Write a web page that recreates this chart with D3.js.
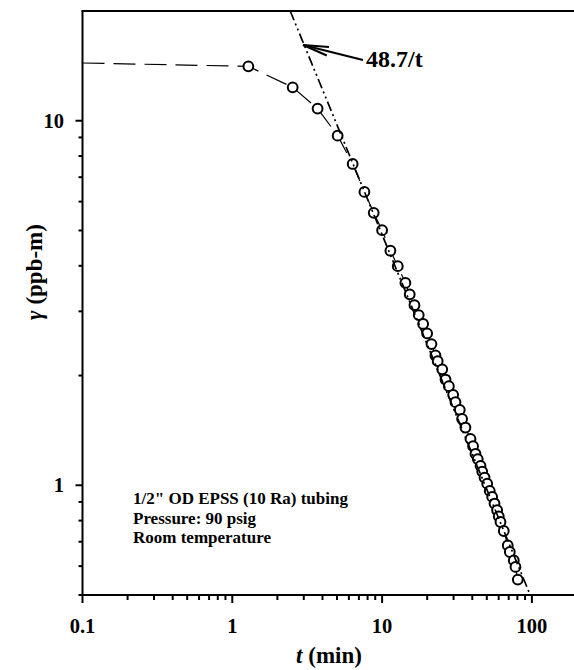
<!DOCTYPE html>
<meta charset="utf-8">
<script src="https://cdn.jsdelivr.net/npm/d3@7"></script>
<style>
	body { margin: 0; background: #fff; }
	text { font-family: "Liberation Serif", "Times New Roman", serif; font-weight: bold; fill: #000; }
</style>
<div id="vis-decay"></div>

<script>
	// measured points, t (min) and gamma (ppb-m)
	const tMin = [1.28, 2.53, 3.71, 5.05, 6.36, 7.62, 8.79, 10.0, 11.36, 12.72,
		14.31, 15.29, 16.44, 17.56, 18.79, 19.98, 21.35, 22.7, 23.5, 25.2,
		26.5, 27.9, 29.8, 30.9, 33.0, 34.2, 36.0, 38.9, 40.5, 42.0,
		43.5, 45.4, 46.6, 48.3, 50.3, 52.3, 54.3, 56.3, 58.6, 60.1,
		61.7, 64.9, 69.0, 71.2, 75.7, 77.7, 80.5]
	const gamma = [14.1, 12.35, 10.8, 9.10, 7.61, 6.38, 5.59, 5.01, 4.40, 3.99,
		3.59, 3.34, 3.12, 2.93, 2.77, 2.61, 2.44, 2.27, 2.19, 2.08,
		1.95, 1.87, 1.77, 1.69, 1.61, 1.52, 1.44, 1.34, 1.28, 1.22,
		1.18, 1.13, 1.09, 1.05, 1.01, 0.965, 0.929, 0.891, 0.854, 0.822,
		0.793, 0.749, 0.684, 0.656, 0.622, 0.597, 0.551]

	// dashed lead-in from the axis to the first point
	const leadT = [0.1]
	const leadGamma = [14.4]

	// fitted line gamma = 48.7 / t, drawn between these times
	const fitCoef = 48.7
	const fitT = [2.435, 97.4]

	const xTickValues = [0.1, 1, 10, 100]
	const xTickLabels = ['0.1', '1', '10', '100']
	const yTickValues = [1, 10]
	const yTickLabels = ['1', '10']
	const notes = ['1/2" OD EPSS (10 Ra) tubing', 'Pressure: 90 psig', 'Room temperature']

	const width = 574, height = 670
	const padLeft = 82.5, padBottom = 595, padTop = 11

	const svg = d3.select('#vis-decay').append('svg')
		.attr('width', width)
		.attr('height', height)

	const x = d3.scaleLog().domain([0.1, 200]).range([padLeft, padLeft + 149.8 * Math.log10(2000)])
	const y = d3.scaleLog().domain([0.5, 20]).range([padBottom, padTop])

	// minor ticks: 2..9 in each decade
	function minors(domain) {
		let out = []
		for (let d = Math.floor(Math.log10(domain[0])); d <= Math.ceil(Math.log10(domain[1])); d++) {
			for (let k = 1; k <= 9; k++) {
				let v = k * Math.pow(10, d)
				if (v >= domain[0] * 0.999 && v <= domain[1] * 1.001) out.push(v)
			}
		}
		return out
	}

	const xMinor = minors(x.domain()).filter(v => xTickValues.indexOf(v) < 0)
	const yMinor = minors(y.domain()).filter(v => yTickValues.indexOf(v) < 0 && v < 19.9)

	// data line (dashed) under the circles
	const line = d3.line().x(d => x(d[0])).y(d => y(d[1]))
	const pts = leadT.map((t, i) => [t, leadGamma[i]]).concat(tMin.map((t, i) => [t, gamma[i]]))

	svg.append('path')
		.attr('d', line(pts))
		.attr('fill', 'none')
		.attr('stroke', '#000')
		.attr('stroke-width', 1.2)
		.attr('stroke-dasharray', '22,9')

	svg.append('g').selectAll('circle')
		.data(tMin)
		.enter()
		.append('circle')
		.attr('cx', d => x(d))
		.attr('cy', (d, i) => y(gamma[i]))
		.attr('r', 4.9)
		.attr('fill', '#fff')
		.attr('stroke', '#000')
		.attr('stroke-width', 2)

	// 48.7/t line, dash-dot-dot
	svg.append('path')
		.attr('d', line(fitT.map(t => [t, fitCoef / t])))
		.attr('fill', 'none')
		.attr('stroke', '#000')
		.attr('stroke-width', 1.7)
		.attr('stroke-dasharray', '10,3.5,2,3.5,2,3.5')

	// frame
	const axisG = svg.append('g').attr('stroke', '#000').attr('stroke-width', 2)
	axisG.append('line').attr('x1', padLeft).attr('x2', padLeft).attr('y1', padTop).attr('y2', padBottom + 1)
	axisG.append('line').attr('x1', padLeft - 1).attr('x2', width).attr('y1', padBottom).attr('y2', padBottom)
	axisG.append('line').attr('x1', padLeft - 1).attr('x2', width).attr('y1', padTop).attr('y2', padTop)

	// x ticks
	axisG.selectAll('line.xmaj').data(xTickValues).enter().append('line')
		.attr('class', 'xmaj')
		.attr('x1', d => x(d)).attr('x2', d => x(d))
		.attr('y1', padBottom).attr('y2', padBottom + 8)
	axisG.selectAll('line.xmin').data(xMinor).enter().append('line')
		.attr('class', 'xmin')
		.attr('x1', d => x(d)).attr('x2', d => x(d))
		.attr('y1', padBottom).attr('y2', padBottom + 5)

	// y ticks
	axisG.selectAll('line.ymaj').data(yTickValues).enter().append('line')
		.attr('class', 'ymaj')
		.attr('x1', padLeft - 7).attr('x2', padLeft)
		.attr('y1', d => y(d)).attr('y2', d => y(d))
	axisG.selectAll('line.ymin').data(yMinor).enter().append('line')
		.attr('class', 'ymin')
		.attr('x1', padLeft - 4).attr('x2', padLeft)
		.attr('y1', d => y(d)).attr('y2', d => y(d))

	svg.append('g').selectAll('text')
		.data(xTickValues)
		.enter()
		.append('text')
		.attr('x', d => x(d))
		.attr('y', 633)
		.attr('text-anchor', 'middle')
		.style('font-size', '20.5px')
		.text((d, i) => xTickLabels[i])

	svg.append('g').selectAll('text')
		.data(yTickValues)
		.enter()
		.append('text')
		.attr('x', 64)
		.attr('y', d => y(d) + 7)
		.attr('text-anchor', 'end')
		.style('font-size', '20.5px')
		.text((d, i) => yTickLabels[i])

	// axis titles
	const xt = svg.append('text')
		.attr('x', 329)
		.attr('y', 663)
		.attr('text-anchor', 'middle')
		.style('font-size', '23px')
	xt.append('tspan').style('font-style', 'italic').text('t')
	xt.append('tspan').text(' (min)')

	const yt = svg.append('text')
		.attr('transform', 'translate(42,272) rotate(-90)')
		.attr('text-anchor', 'middle')
		.style('font-size', '23px')
	yt.append('tspan').style('font-style', 'italic').text('γ')
	yt.append('tspan').text(' (ppb-m)')

	// annotation for the fit line
	const tip = [303, 45], tail = [363, 60]
	const ang = Math.atan2(tail[1] - tip[1], tail[0] - tip[0])
	const arrowG = svg.append('g').attr('stroke', '#000').attr('fill', 'none').attr('stroke-width', 2)
	arrowG.append('line').attr('x1', tail[0]).attr('y1', tail[1]).attr('x2', tip[0]).attr('y2', tip[1])
	;[-0.17, 0.17].forEach(a => {
		arrowG.append('line')
			.attr('x1', tip[0]).attr('y1', tip[1])
			.attr('x2', tip[0] + 26 * Math.cos(ang + a))
			.attr('y2', tip[1] + 26 * Math.sin(ang + a))
	})
	svg.append('text')
		.attr('x', 366)
		.attr('y', 67)
		.style('font-size', '24px')
		.text(fitCoef + '/t')

	// conditions
	svg.append('g').selectAll('text')
		.data(notes)
		.enter()
		.append('text')
		.attr('x', 133)
		.attr('y', (d, i) => 504 + i * 19.5)
		.style('font-size', '17px')
		.text(d => d)
</script>
